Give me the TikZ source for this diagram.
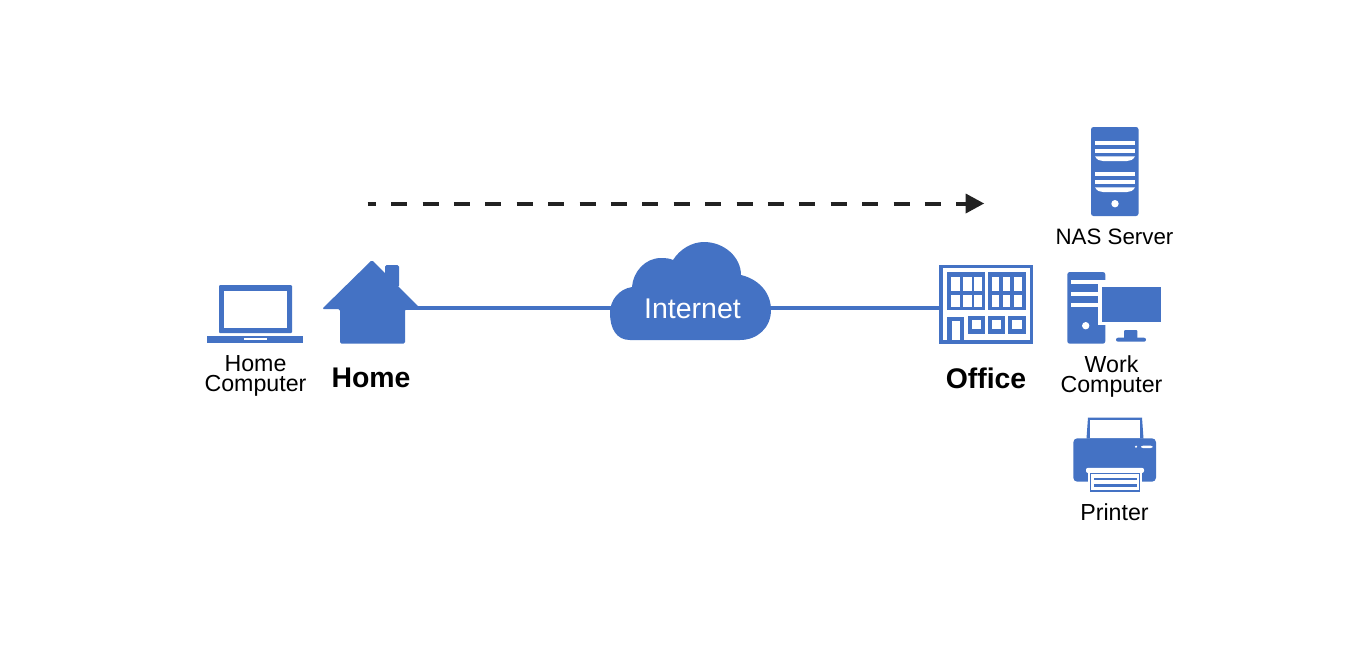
\documentclass[tikz,border=0pt]{standalone}
\usepackage{fontspec}
\setmainfont{Liberation Sans}
\definecolor{iconblue}{HTML}{4472C4}
\definecolor{inkdark}{HTML}{222222}
\tikzset{
  fillblue/.style={fill=iconblue,draw=none},
  fillwhite/.style={fill=white,draw=none},
  small label/.style={font=\fontsize{23.2}{20}\selectfont,text=black,align=center,inner sep=0pt},
  big label/.style={font=\fontsize{28.4}{28}\selectfont\bfseries,text=black,inner sep=0pt},
  linkline/.style={draw=iconblue,line width=3.4pt},
  flowline/.style={draw=inkdark,line width=4pt,dash pattern=on 16pt off 15.4pt,dash phase=8pt},
}
\begin{document}
\begin{tikzpicture}[x=1pt,y=-1pt]
\useasboundingbox (0,0) rectangle (1368,646);
\fill[white] (0,0) rectangle (1368,646);
% anchors of connectors
\coordinate (homeport) at (405,308);
\coordinate (officeport) at (941,308);
\coordinate (flowstart) at (367.7,203.5);
\coordinate (flowend) at (967,203.5);
% cloud
\path[fillblue] (630,340) .. controls (616,340) and (610,328) .. (610,313)
  .. controls (610,300) and (619,289) .. (632,287)
  .. controls (633,272) and (645,258) .. (661,258)
  .. controls (666,258) and (670,258.5) .. (673,260)
  .. controls (680,249) and (692,242) .. (704,242)
  .. controls (724,242) and (741,257) .. (741,275)
  .. controls (758,279) and (771,292) .. (771,310)
  .. controls (771,328) and (757,340) .. (740,340) -- cycle;
\node[inner sep=0pt,font=\fontsize{28.5}{28}\selectfont,text=white] (internet) at (692.5,309) {Internet};
\coordinate (cloudleft) at (612,308);
\coordinate (cloudright) at (770,308);
\draw[linkline] (homeport) -- (cloudleft);
\draw[linkline] (cloudright) -- (officeport);
% laptop
\path[fillblue,rounded corners=1pt] (219,285) rectangle (292,333);
\path[fillwhite] (224,291) rectangle (287,328);
\path[fillblue] (207,336) rectangle (303,343);
\path[fillwhite] (244,338) rectangle (267,339.5);
% house
\path[fillblue,rounded corners=1.5pt] (385,272) -- (385,265) -- (399,265) -- (399,287) -- (385,287) -- cycle;
\path[fillblue,rounded corners=1.5pt] (372,260) -- (322,309) -- (340,309) -- (340,343.5) -- (405,343.5) -- (405,309) -- (421,309) -- cycle;
% office
\path[draw=iconblue,line width=3.4pt] (941,266.5) rectangle (1031.5,342);
\path[fillblue] (947,272) rectangle (985,310);
\path[fillblue] (988,272) rectangle (1025.5,310);
\foreach \xa/\xb in {951/960,962.5/971.5,973.5/981.5,991.5/999,1002.5/1010,1013.5/1021.5}{
  \foreach \ya/\yb in {276.5/291,294.5/306.5}{
    \path[fillwhite] (\xa,\ya) rectangle (\xb,\yb);
  }
}
\path[fillblue] (947,316.5) rectangle (964,342);
\path[fillwhite] (951.5,320.5) rectangle (960,340);
\foreach \xa/\xb in {968/985,988/1005,1008/1025.5}{
  \path[fillblue] (\xa,315.5) rectangle (\xb,333.5);
  \path[fillwhite] (\xa+4,320) rectangle (\xb-4,329);
}
% server
\path[fillblue,rounded corners=2.5pt] (1091,127) rectangle (1138.5,216);
\foreach \yo in {0,31}{
  \path[fillwhite] (1095,141.3+\yo) rectangle (1135,145.3+\yo);
  \path[fillwhite] (1095,148.8+\yo) rectangle (1135,152.8+\yo);
  \path[fillwhite] (1095,156.3+\yo) -- (1135,156.3+\yo) .. controls (1133,160+\yo) and (1130,161+\yo) .. (1127,161+\yo) -- (1103,161+\yo) .. controls (1100,161+\yo) and (1097,160+\yo) .. cycle;
}
\path[fillwhite] (1115,203.7) circle[radius=3.7];
% work computer
\path[fillblue,rounded corners=2.5pt] (1067.3,272) rectangle (1105.3,343.7);
\path[fillwhite] (1071,280) rectangle (1106,284);
\path[fillwhite] (1071,291.7) rectangle (1106,295.7);
\path[fillwhite] (1071,302.7) rectangle (1106,306.7);
\path[fillwhite] (1085.7,325.7) circle[radius=3.7];
\path[fillwhite] (1097.5,280) rectangle (1164,325);
\path[fillblue] (1101.7,286.7) rectangle (1160.7,321.7);
\path[fillblue,rounded corners=1pt] (1124,330) rectangle (1137.3,339);
\path[fillblue,rounded corners=2pt] (1116,337.7) rectangle (1146,341.7);
% printer
\path[fillblue] (1086.5,438.5) -- (1088,417.5) -- (1142,417.5) -- (1143.5,438.5) -- cycle;
\path[fillwhite] (1090,419.5) rectangle (1140,437.7);
\path[fillblue,rounded corners=4pt] (1073.3,438.3) rectangle (1156,481.7);
\path[fillwhite] (1136,446.7) circle[radius=1.2];
\path[fillwhite,rounded corners=2pt] (1141,445.7) rectangle (1152.7,448);
\path[fillwhite,rounded corners=2pt] (1086,467.8) rectangle (1144,473);
\path[fillwhite] (1088,468) rectangle (1142,481.7);
\path[fill=white,draw=iconblue,line width=1.8pt] (1090.5,473.5) rectangle (1139.5,491);
\path[fillblue] (1093.5,477.5) rectangle (1136.5,480);
\path[fillblue] (1093.5,484) rectangle (1136.5,486.5);
% flow arrow
\draw[flowline] (flowstart) -- (flowend);
\path[fill=inkdark] (965.7,193.5) -- (984,203.5) -- (965.7,213.5) -- cycle;
% labels
\node[small label] (homecomputer) at (255.5,376) {Home\\Computer};
\node[big label] (home) at (371,378) {Home};
\node[big label] (office) at (986,378) {Office};
\node[small label,font=\fontsize{22.3}{20}\selectfont] (nas) at (1114.5,237) {NAS Server};
\node[small label] (work) at (1111.5,376) {Work\\Computer};
\node[small label] (printer) at (1114.5,512.5) {Printer};
\end{tikzpicture}
\end{document}
